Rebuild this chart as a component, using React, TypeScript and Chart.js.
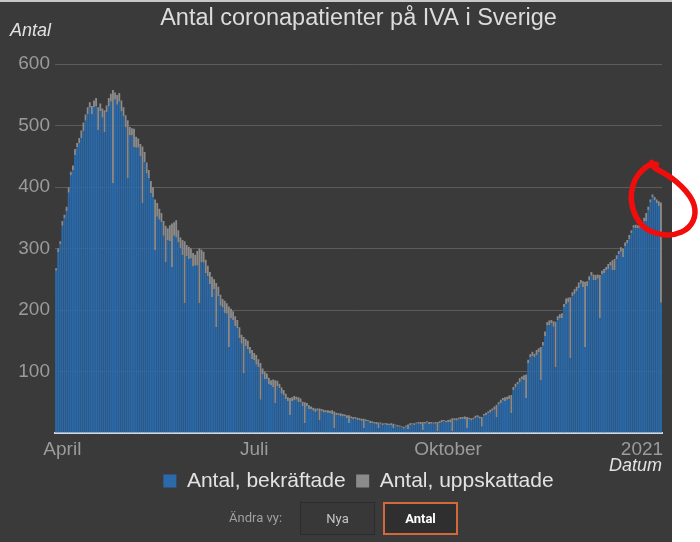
import React, { useEffect, useRef } from "react";
import { Chart, registerables } from "chart.js";

Chart.register(...registerables);

// ---------- data ----------
const START_DATE = [2020, 2, 29]; // 29 March 2020, one bar per day

const confirmed: number[] = [
  264, 294, 307, 337, 349, 361, 391,
  419, 427, 452, 465, 471, 480, 491,
  508, 518, 529, 518, 530, 532, 493,
  524, 513, 489, 522, 531, 539, 406,
  542, 534, 539, 523, 515, 497, 415,
  484, 484, 465, 464, 464, 450, 374,
  441, 422, 414, 390, 383, 297, 352,
  347, 343, 321, 278, 313, 312, 270,
  321, 318, 310, 301, 289, 211, 288,
  283, 284, 271, 272, 272, 211, 278,
  277, 260, 255, 242, 221, 234, 172,
  223, 207, 204, 195, 194, 140, 187,
  184, 174, 171, 154, 145, 97, 141,
  136, 129, 120, 118, 111, 107, 54,
  95, 88, 88, 79, 78, 74, 49,
  76, 73, 64, 62, 55, 52, 29,
  52, 53, 54, 50, 50, 44, 16,
  44, 39, 39, 36, 34, 36, 21,
  35, 33, 34, 32, 32, 31, 8,
  29, 29, 27, 27, 27, 24, 16,
  24, 22, 23, 21, 21, 19, 8,
  19, 19, 16, 16, 15, 14, 8,
  15, 13, 14, 13, 13, 13, 8,
  12, 10, 10, 9, 7, 10, 6,
  13, 14, 13, 15, 15, 14, 5,
  15, 17, 14, 15, 15, 15, 3,
  16, 17, 19, 17, 18, 18, 3,
  21, 20, 22, 22, 23, 22, 8,
  22, 20, 22, 24, 26, 23, 10,
  28, 29, 32, 33, 36, 38, 26,
  46, 49, 53, 52, 54, 55, 32,
  70, 74, 79, 82, 87, 86, 57,
  113, 123, 125, 123, 127, 131, 86,
  142, 158, 175, 175, 178, 173, 107,
  183, 187, 187, 205, 210, 213, 122,
  223, 226, 231, 236, 243, 237, 140,
  239, 248, 256, 249, 249, 251, 187,
  258, 260, 265, 267, 272, 265, 265,
  283, 291, 295, 286, 304, 309, 315,
  325, 334, 333, 333, 334, 334, 345,
  345, 362, 375, 384, 379, 374, 369,
  212,
];

const estimated: number[] = [
  4, 6, 5, 8, 6, 7, 9,
  6, 8, 10, 7, 9, 12, 14,
  10, 12, 9, 14, 11, 13, 37,
  12, 15, 36, 11, 14, 13, 152,
  12, 16, 14, 18, 15, 20, 94,
  14, 12, 30, 18, 15, 20, 92,
  16, 18, 14, 20, 17, 83, 22,
  18, 15, 24, 59, 20, 26, 71,
  22, 28, 20, 17, 25, 101, 18,
  20, 16, 22, 18, 24, 89, 20,
  18, 22, 17, 20, 33, 16, 72,
  15, 18, 14, 20, 17, 66, 15,
  14, 16, 13, 18, 15, 59, 12,
  14, 11, 15, 12, 16, 13, 60,
  10, 12, 9, 11, 8, 13, 37,
  9, 7, 10, 8, 9, 6, 28,
  6, 7, 5, 8, 6, 7, 34,
  5, 6, 4, 5, 6, 4, 19,
  4, 5, 3, 5, 4, 6, 27,
  4, 3, 5, 4, 3, 5, 13,
  3, 4, 3, 4, 3, 4, 15,
  3, 2, 4, 3, 3, 4, 9,
  2, 3, 2, 3, 2, 3, 7,
  2, 3, 2, 2, 3, 2, 8,
  3, 2, 3, 2, 3, 4, 13,
  3, 2, 4, 3, 2, 3, 15,
  3, 4, 2, 3, 3, 4, 21,
  3, 4, 3, 4, 3, 5, 18,
  3, 4, 3, 4, 3, 4, 16,
  3, 4, 3, 5, 4, 5, 20,
  4, 5, 4, 6, 5, 6, 30,
  5, 6, 4, 7, 5, 8, 38,
  6, 5, 7, 6, 8, 7, 54,
  6, 7, 5, 8, 6, 9, 74,
  7, 6, 8, 5, 9, 7, 99,
  6, 8, 7, 9, 6, 10, 106,
  8, 7, 6, 9, 8, 7, 70,
  6, 7, 5, 8, 6, 16, 18,
  6, 5, 7, 14, 6, 5, 7,
  5, 4, 6, 5, 4, 6, 5,
  13, 6, 5, 4, 5, 6, 8,
  163,
];

const tickDates = ["2020-04-01", "2020-07-01", "2020-10-01", "2021-01-01"];
const tickNames = ["April", "Juli", "Oktober", "2021"];
const seriesNames = ["Antal, bekräftade", "Antal, uppskattade"];
const seriesColors = ["#2a6aab", "#8b8b8b"];
const Y_MAX = 600;
const Y_STEP = 100;
const TITLE = "Antal coronapatienter på IVA i Sverige";
const Y_TITLE = "Antal";
const X_TITLE = "Datum";
const HIGHLIGHT_DATE = "2021-01-06";
const HIGHLIGHT_VALUE = 388;

// ---------- helpers ----------
function buildDates(n: number): string[] {
  const out: string[] = [];
  const base = Date.UTC(START_DATE[0], START_DATE[1], START_DATE[2]);
  for (let i = 0; i < n; i++) {
    out.push(new Date(base + i * 86400000).toISOString().slice(0, 10));
  }
  return out;
}

const labels = buildDates(confirmed.length);
const FONT = "'Liberation Sans', Arial, sans-serif";
const PANEL_W = 672;

const panelPlugin = {
  id: "panel",
  beforeDraw(chart: any) {
    const { ctx, width, height } = chart;
    ctx.save();
    ctx.fillStyle = "#ffffff";
    ctx.fillRect(0, 0, width, height);
    ctx.fillStyle = "#3a3a3a";
    ctx.fillRect(0, 0, PANEL_W, height);
    ctx.fillStyle = "#c8c8c8";
    ctx.fillRect(0, 0, PANEL_W, 2);
    ctx.restore();
  },
  afterDraw(chart: any) {
    const { ctx, chartArea, scales } = chart;
    ctx.save();
    ctx.font = `italic 18px ${FONT}`;
    ctx.fillStyle = "#e2e2e2";
    ctx.textBaseline = "middle";
    ctx.textAlign = "left";
    ctx.fillText(Y_TITLE, 10, 31);
    ctx.textAlign = "right";
    ctx.fillText(X_TITLE, chartArea.right, 466);

    // hand drawn red loop around the latest peak
    const ax = scales.x.getPixelForValue(labels.indexOf(HIGHLIGHT_DATE));
    const ay = scales.y.getPixelForValue(HIGHLIGHT_VALUE);
    const pts = [
      [-1, -32], [-3, -29], [20, -17], [39, 2], [44, 19], [37, 34], [21, 41],
      [7, 40], [-7, 35], [-17, 23], [-22, 6], [-20, -10], [-14, -21], [-6, -28], [0, -31], [4, -30],
    ];
    ctx.strokeStyle = "#f20d0d";
    ctx.lineWidth = 5.5;
    ctx.lineCap = "round";
    ctx.lineJoin = "round";
    ctx.beginPath();
    ctx.moveTo(ax + pts[0][0], ay + pts[0][1]);
    for (let i = 1; i < pts.length - 1; i++) {
      const mx = (pts[i][0] + pts[i + 1][0]) / 2;
      const my = (pts[i][1] + pts[i + 1][1]) / 2;
      ctx.quadraticCurveTo(ax + pts[i][0], ay + pts[i][1], ax + mx, ay + my);
    }
    ctx.lineTo(ax + pts[pts.length - 1][0], ay + pts[pts.length - 1][1]);
    ctx.stroke();
    ctx.restore();
  },
};

export default function App() {
  const ref = useRef<HTMLCanvasElement | null>(null);

  useEffect(() => {
    if (!ref.current) return;
    Chart.defaults.font.family = FONT;
    const chart = new Chart(ref.current, {
      type: "bar",
      data: {
        labels,
        datasets: [
          {
            label: seriesNames[0],
            data: confirmed,
            backgroundColor: seriesColors[0],
            borderWidth: 0,
            categoryPercentage: 1,
            barPercentage: 0.88,
          },
          {
            label: seriesNames[1],
            data: estimated,
            backgroundColor: seriesColors[1],
            borderWidth: 0,
            categoryPercentage: 1,
            barPercentage: 0.88,
          },
        ],
      },
      options: {
        responsive: false,
        animation: false,
        layout: { padding: { top: 0, left: 0, right: 38, bottom: 40.5 } },
        plugins: {
          title: {
            display: true,
            text: TITLE,
            fullSize: false,
            color: "#dcdcdc",
            font: { size: 23.5, weight: "normal", family: FONT },
            padding: { top: 4, bottom: 32 },
          },
          legend: {
            position: "bottom",
            fullSize: false,
            labels: {
              color: "#e2e2e2",
              font: { size: 21, family: FONT },
              boxWidth: 13,
              boxHeight: 13,
              padding: 10.5,
            },
          },
          tooltip: { enabled: false },
        },
        scales: {
          x: {
            stacked: true,
            grid: { display: false, drawTicks: false },
            border: { display: true, color: "#d3d9df", width: 2 },
            ticks: {
              autoSkip: false,
              maxRotation: 0,
              minRotation: 0,
              padding: 5,
              color: "#9b9b9b",
              font: { size: 19, family: FONT },
              callback: (v: any) => {
                const k = tickDates.indexOf(labels[v as number]);
                return k >= 0 ? tickNames[k] : "";
              },
            },
            afterFit: (s: any) => {
              s.height = 27;
            },
          },
          y: {
            stacked: true,
            min: 0,
            max: Y_MAX,
            grid: { color: "#5c5c5c", drawTicks: false },
            border: { display: false },
            ticks: {
              stepSize: Y_STEP,
              padding: 5,
              color: "#9b9b9b",
              font: { size: 19, family: FONT },
              callback: (v: any) => (v === 0 ? "" : String(v)),
            },
            afterFit: (s: any) => {
              s.width = 55;
            },
          },
        },
      },
      plugins: [panelPlugin],
    } as any);
    return () => chart.destroy();
  }, []);

  const btnBase: React.CSSProperties = {
    position: "absolute",
    top: 502,
    width: 75,
    height: 33,
    boxSizing: "border-box",
    display: "flex",
    alignItems: "center",
    justifyContent: "center",
    fontFamily: "Roboto, 'Liberation Sans', sans-serif",
    fontSize: 13,
  };

  return (
    <div style={{ position: "fixed", left: 0, top: 0, width: 700, height: 542, overflow: "hidden", background: "#fff" }}>
      <canvas ref={ref} width={700} height={542} style={{ display: "block", width: 700, height: 542 }} />
      <div
        style={{
          position: "absolute",
          left: 229,
          top: 510,
          fontFamily: "Roboto, 'Liberation Sans', sans-serif",
          fontSize: 13,
          color: "#a0a0a0",
          lineHeight: "16px",
        }}
      >
        Ändra vy:
      </div>
      <div style={{ ...btnBase, left: 300, border: "1px solid #2c2c2c", background: "#383838", color: "#c4c4c4" }}>Nya</div>
      <div
        style={{
          ...btnBase,
          left: 383,
          border: "2px solid #d2693c",
          background: "#2f2f2f",
          color: "#ffffff",
          fontWeight: "bold",
        }}
      >
        Antal
      </div>
    </div>
  );
}
